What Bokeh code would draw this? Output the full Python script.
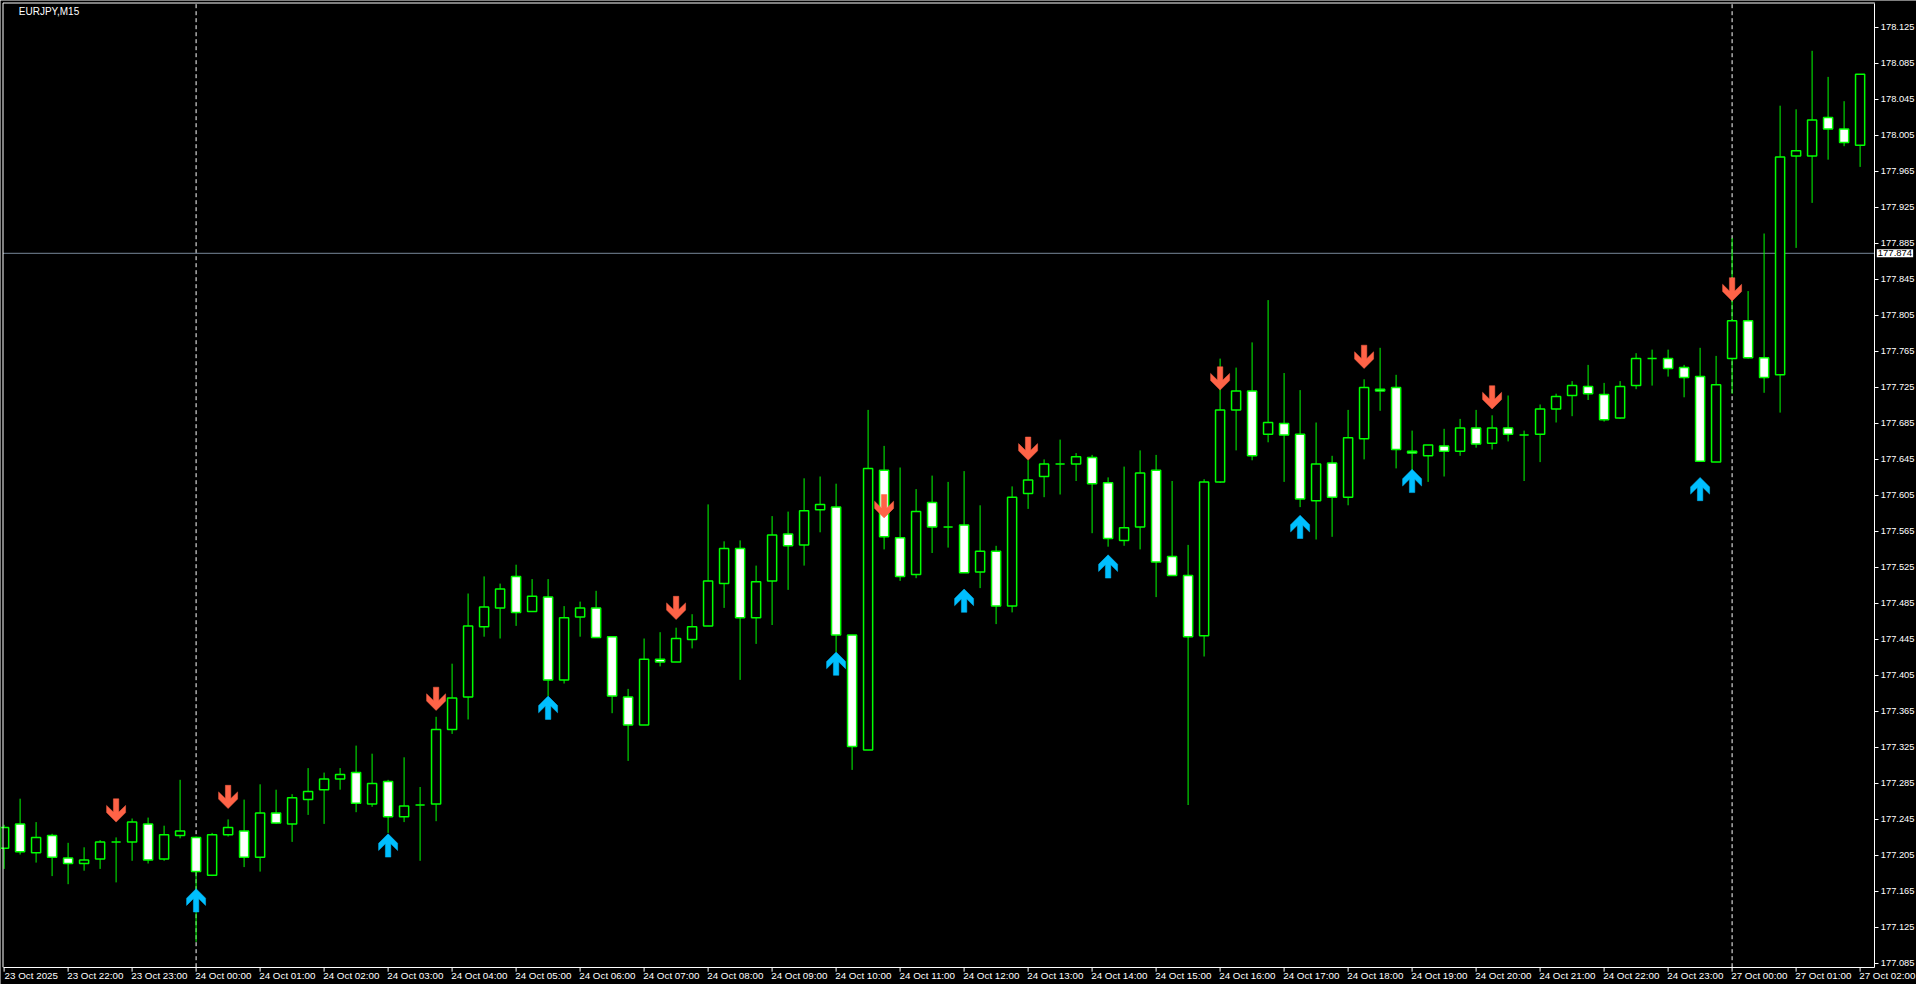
from bokeh.plotting import figure
from bokeh.models import FixedTicker, Label, NumeralTickFormatter
from bokeh.embed import file_html
from bokeh.resources import INLINE

symbol_text = "EURJPY,M15"

opens = [177.213, 177.240, 177.208, 177.227, 177.202, 177.196, 177.201, 177.220, 177.220, 177.240,
         177.201, 177.227, 177.225, 177.183, 177.228, 177.232, 177.203, 177.252, 177.240, 177.267,
         177.278, 177.290, 177.297, 177.262, 177.287, 177.248, 177.261, 177.262, 177.345, 177.381,
         177.459, 177.480, 177.515, 177.476, 177.492, 177.400, 177.470, 177.480, 177.448, 177.381,
         177.350, 177.423, 177.420, 177.445, 177.460, 177.507, 177.546, 177.469, 177.510, 177.562,
         177.550, 177.589, 177.592, 177.450, 177.322, 177.633, 177.558, 177.517, 177.597, 177.570,
         177.572, 177.520, 177.543, 177.482, 177.607, 177.626, 177.640, 177.640, 177.647, 177.619,
         177.555, 177.570, 177.633, 177.537, 177.516, 177.449, 177.620, 177.700, 177.721, 177.673,
         177.685, 177.673, 177.599, 177.641, 177.603, 177.668, 177.723, 177.725, 177.654, 177.649,
         177.660, 177.654, 177.680, 177.663, 177.680, 177.672, 177.673, 177.701, 177.716, 177.726,
         177.717, 177.691, 177.727, 177.757, 177.757, 177.747, 177.737, 177.642, 177.757, 177.799,
         177.758, 177.739, 177.982, 177.982, 178.025, 178.012, 177.994]
highs = [177.239, 177.268, 177.242, 177.229, 177.219, 177.214, 177.222, 177.225, 177.246, 177.247,
         177.238, 177.289, 177.226, 177.230, 177.245, 177.267, 177.284, 177.278, 177.273, 177.302,
         177.297, 177.302, 177.327, 177.318, 177.289, 177.314, 177.281, 177.359, 177.418, 177.496,
         177.515, 177.507, 177.528, 177.512, 177.512, 177.482, 177.487, 177.499, 177.448, 177.390,
         177.446, 177.453, 177.458, 177.473, 177.595, 177.554, 177.555, 177.527, 177.582, 177.587,
         177.624, 177.626, 177.618, 177.450, 177.700, 177.660, 177.636, 177.612, 177.627, 177.620,
         177.632, 177.594, 177.549, 177.615, 177.644, 177.645, 177.667, 177.652, 177.650, 177.625,
         177.637, 177.655, 177.650, 177.621, 177.550, 177.623, 177.757, 177.747, 177.775, 177.822,
         177.741, 177.722, 177.686, 177.649, 177.700, 177.734, 177.769, 177.739, 177.677, 177.661,
         177.679, 177.690, 177.700, 177.694, 177.716, 177.677, 177.706, 177.718, 177.732, 177.750,
         177.730, 177.732, 177.763, 177.767, 177.767, 177.750, 177.769, 177.760, 177.891, 177.832,
         177.896, 178.038, 178.034, 178.099, 178.070, 178.043, 178.073]
lows = [177.190, 177.206, 177.197, 177.182, 177.173, 177.188, 177.190, 177.175, 177.199, 177.196,
        177.199, 177.224, 177.109, 177.182, 177.226, 177.192, 177.187, 177.240, 177.220, 177.250,
        177.240, 177.278, 177.253, 177.259, 177.230, 177.242, 177.199, 177.243, 177.340, 177.356,
        177.448, 177.446, 177.460, 177.476, 177.382, 177.396, 177.448, 177.447, 177.363, 177.310,
        177.350, 177.415, 177.420, 177.435, 177.460, 177.480, 177.400, 177.440, 177.461, 177.500,
        177.527, 177.564, 177.431, 177.300, 177.322, 177.545, 177.510, 177.513, 177.541, 177.547,
        177.519, 177.502, 177.462, 177.475, 177.590, 177.603, 177.606, 177.621, 177.563, 177.548,
        177.549, 177.545, 177.492, 177.516, 177.261, 177.426, 177.619, 177.655, 177.644, 177.664,
        177.620, 177.592, 177.556, 177.559, 177.594, 177.645, 177.699, 177.635, 177.633, 177.620,
        177.626, 177.649, 177.658, 177.656, 177.665, 177.621, 177.642, 177.686, 177.693, 177.711,
        177.687, 177.690, 177.723, 177.727, 177.737, 177.714, 177.643, 177.642, 177.718, 177.757,
        177.719, 177.697, 177.880, 177.930, 177.978, 177.993, 177.970]
closes = [177.236, 177.209, 177.225, 177.203, 177.196, 177.200, 177.220, 177.220, 177.242, 177.200,
          177.228, 177.232, 177.187, 177.228, 177.236, 177.203, 177.252, 177.241, 177.269, 177.276,
          177.290, 177.295, 177.263, 177.285, 177.248, 177.260, 177.261, 177.345, 177.380, 177.460,
          177.481, 177.501, 177.475, 177.493, 177.400, 177.469, 177.480, 177.447, 177.382, 177.350,
          177.423, 177.420, 177.446, 177.459, 177.510, 177.546, 177.469, 177.509, 177.561, 177.549,
          177.588, 177.595, 177.450, 177.326, 177.635, 177.559, 177.515, 177.587, 177.570, 177.570,
          177.519, 177.543, 177.482, 177.603, 177.622, 177.640, 177.640, 177.648, 177.618, 177.557,
          177.569, 177.630, 177.531, 177.516, 177.448, 177.620, 177.700, 177.721, 177.649, 177.686,
          177.672, 177.601, 177.640, 177.603, 177.669, 177.725, 177.721, 177.656, 177.652, 177.661,
          177.654, 177.680, 177.662, 177.680, 177.673, 177.672, 177.701, 177.715, 177.727, 177.718,
          177.689, 177.726, 177.757, 177.757, 177.746, 177.736, 177.643, 177.728, 177.799, 177.758,
          177.736, 177.981, 177.988, 178.022, 178.012, 177.997, 178.073]

# signal arrows: bar index and arrow tip price
sell_idx = [7, 14, 27, 42, 55, 64, 76, 85, 93, 108]
sell_price = [177.242, 177.257, 177.366, 177.467, 177.580, 177.644, 177.722, 177.746, 177.701, 177.821]
buy_idx = [12, 24, 34, 52, 60, 69, 81, 88, 106]
buy_price = [177.168, 177.229, 177.382, 177.431, 177.501, 177.539, 177.583, 177.634, 177.625]

session_idx = [12, 108]
hline_price = 177.874
hline_text = "177.874"

price_ticks = [178.125, 178.085, 178.045, 178.005, 177.965, 177.925, 177.885, 177.845, 177.805,
               177.765, 177.725, 177.685, 177.645, 177.605, 177.565, 177.525, 177.485, 177.445,
               177.405, 177.365, 177.325, 177.285, 177.245, 177.205, 177.165, 177.125, 177.085]
time_tick_idx = [0, 4, 8, 12, 16, 20, 24, 28, 32, 36, 40, 44, 48, 52, 56, 60, 64, 68, 72, 76,
                 80, 84, 88, 92, 96, 100, 104, 108, 112, 116]
time_tick_labels = ["23 Oct 2025", "23 Oct 22:00", "23 Oct 23:00", "24 Oct 00:00", "24 Oct 01:00",
                    "24 Oct 02:00", "24 Oct 03:00", "24 Oct 04:00", "24 Oct 05:00", "24 Oct 06:00",
                    "24 Oct 07:00", "24 Oct 08:00", "24 Oct 09:00", "24 Oct 10:00", "24 Oct 11:00",
                    "24 Oct 12:00", "24 Oct 13:00", "24 Oct 14:00", "24 Oct 15:00", "24 Oct 16:00",
                    "24 Oct 17:00", "24 Oct 18:00", "24 Oct 19:00", "24 Oct 20:00", "24 Oct 21:00",
                    "24 Oct 22:00", "24 Oct 23:00", "27 Oct 00:00", "27 Oct 01:00", "27 Oct 02:00"]

# ---------------- styling ----------------
GREEN = "#00FF00"
FONT = "Liberation Sans"
W, H = 1916, 984
XPX, YPX = 16.0, 900.0            # pixels per bar / per price unit
BAR0_PX, P_REF, P_REF_PX = 3.6, 178.125, 26.9   # layout of the terminal window

def bx(px):                        # canvas px -> bar coordinate
    return (px - BAR0_PX) / XPX

def py(px):                        # canvas px -> price coordinate
    return P_REF - (px - P_REF_PX) / YPX

X0, X1 = bx(0), bx(W)
Y0, Y1 = py(H), py(0)
AXIS_X = bx(1874.3)               # right price scale
AXIS_Y = py(966.7)                # time scale
BORDER_X, BORDER_Y = bx(2.5), py(2.5)
LABEL_SHIFT = 1.7                 # bars from tick to centre of a time label

p = figure(width=W, height=H, x_range=(X0, X1), y_range=(Y0, Y1),
           y_axis_location="right", output_backend="svg", toolbar_location=None,
           background_fill_color="black", border_fill_color="black",
           min_border_left=0, min_border_top=0, min_border_right=0, min_border_bottom=0,
           outline_line_color=None)
p.grid.visible = False

xs = list(range(len(opens)))
bull = [i for i in xs if closes[i] >= opens[i]]
bear = [i for i in xs if closes[i] < opens[i]]

# guide lines
p.segment(x0=session_idx, y0=[AXIS_Y] * len(session_idx), x1=session_idx,
          y1=[BORDER_Y] * len(session_idx), line_color="white", line_dash="4 3", line_width=1)
p.segment(x0=[BORDER_X], y0=[hline_price], x1=[AXIS_X], y1=[hline_price],
          line_color="#778899", line_width=1)

# candles
p.segment(x0=xs, y0=lows, x1=xs, y1=highs, line_color=GREEN, line_width=1)
p.vbar(x=bull, width=0.57, top=[closes[i] for i in bull], bottom=[opens[i] for i in bull],
       fill_color="black", line_color=GREEN, line_width=1.5)
p.vbar(x=bear, width=0.57, top=[opens[i] for i in bear], bottom=[closes[i] for i in bear],
       fill_color="white", line_color=GREEN, line_width=1.5)

# arrow outline in pixels, tip at (0,0), pointing down
arrow_px = [(-2.7, 23.3), (2.7, 23.3), (2.7, 10), (9.5, 16.7), (9.5, 9.5), (0, 0),
            (-9.5, 9.5), (-9.5, 16.7), (-2.7, 10)]

def arrows(idx, price, sign):
    axs, ays = [], []
    for i, pr in zip(idx, price):
        axs.append([i + dx / XPX for dx, dy in arrow_px])
        ays.append([pr + sign * dy / YPX for dx, dy in arrow_px])
    return axs, ays

sxs, sys_ = arrows(sell_idx, sell_price, 1)
bxs, bys = arrows(buy_idx, buy_price, -1)
p.patches(sxs, sys_, fill_color="#FF6347", line_color="#FF6347", line_width=0.5)
p.patches(bxs, bys, fill_color="#00BFFF", line_color="#00BFFF", line_width=0.5)

# chart border (left, top) and time-scale tick marks
p.segment(x0=[BORDER_X, BORDER_X], y0=[AXIS_Y, BORDER_Y], x1=[BORDER_X, AXIS_X],
          y1=[BORDER_Y, BORDER_Y], line_color="white", line_width=1)
p.segment(x0=time_tick_idx, y0=[AXIS_Y] * len(time_tick_idx), x1=time_tick_idx,
          y1=[AXIS_Y - 4.5 / YPX] * len(time_tick_idx), line_color="white", line_width=1)

p.add_layout(Label(x=bx(18.3), y=py(10.7), text=symbol_text, text_color="white",
                   text_font=FONT, text_font_size="10px", text_baseline="middle",
                   text_align="left"))
p.add_layout(Label(x=AXIS_X + 2 / XPX, y=hline_price, text=hline_text, text_color="black",
                   text_font=FONT, text_font_size="9.5px", text_baseline="middle",
                   text_align="left", background_fill_color="white", padding=1))

# price scale (pinned at the right edge of the chart area)
ya = p.yaxis[0]
ya.fixed_location = AXIS_X
ya.bounds = (AXIS_Y, BORDER_Y)
ya.ticker = FixedTicker(ticks=price_ticks)
ya.formatter = NumeralTickFormatter(format="0.000")
ya.major_label_text_font_size = "9.3px"
ya.major_label_standoff = 2
ya.major_tick_out = 4
ya.major_tick_in = 0
ya.major_tick_line_color = "white"

# time scale (labels start at their tick, as in the terminal)
label_pos = [t + LABEL_SHIFT for t in time_tick_idx]
xa = p.xaxis[0]
xa.fixed_location = AXIS_Y
xa.bounds = (BORDER_X, AXIS_X)
xa.ticker = FixedTicker(ticks=label_pos)
xa.major_label_overrides = {pos: lab for pos, lab in zip(label_pos, time_tick_labels)}
xa.major_label_text_font_size = "9.8px"
xa.major_label_standoff = 3
xa.major_tick_out = 0
xa.major_tick_in = 0
xa.major_tick_line_color = None

for ax in (xa, ya):
    ax.axis_label = None
    ax.axis_line_color = "white"
    ax.axis_line_width = 1
    ax.minor_tick_line_color = None
    ax.major_label_text_color = "white"
    ax.major_label_text_font = FONT

open("out.html", "w").write(file_html(p, INLINE))
